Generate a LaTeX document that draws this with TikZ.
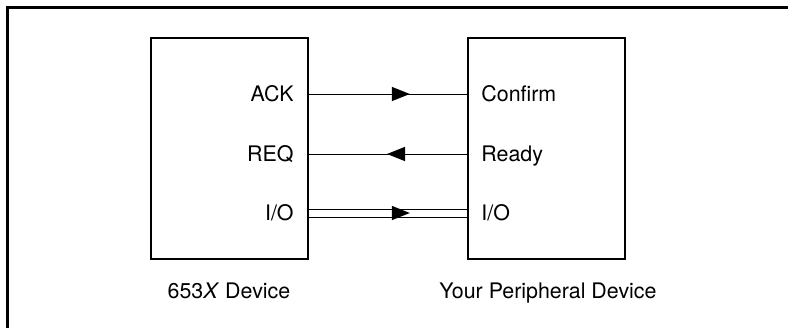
\documentclass[tikz,border=0pt]{standalone}
\usepackage{fontspec}
\setmainfont{TeX Gyre Heros}
\usetikzlibrary{decorations.markings}

\tikzset{
  device/.style={draw, line width=0.6pt, minimum width=78.5pt, minimum height=110.5pt, inner sep=0pt},
  pin/.style={inner sep=0pt, text height=7.7pt, text depth=0pt, font=\fontsize{10.7}{12}\selectfont},
  wire/.style={line width=0.5pt},
  bus/.style={double, double distance=3.5pt, line width=0.5pt},
  midtip/.style={postaction={decorate}, decoration={markings,
    mark=at position #1 with {\fill (-9pt,3.6pt) -- (0pt,0pt) -- (-9pt,-3.6pt) -- cycle;}}}
}

\begin{document}
\begin{tikzpicture}[x=0.5pt,y=-0.5pt]
\useasboundingbox (0,0) rectangle (788,328);
%----frame-------------------------------------
\draw[line width=1.5pt] (7,328) -- (7,7) -- (788,7);
%----the two devices---------------------------
\node[device] (dev) at (229.5,148.5) {};
\node[device] (per) at (546.5,148.5) {};
%----pins--------------------------------------
\node[pin, anchor=east] (ack) at (294,94) {ACK};
\node[pin, anchor=east] (req) at (294,154) {REQ};
\node[pin, anchor=east] (io) at (294,213) {I/O};
\node[pin, anchor=west] (confirm) at (481,94) {Confirm};
\node[pin, anchor=west] (ready) at (481,154) {Ready};
\node[pin, anchor=west] (pio) at (481,213) {I/O};
%----signals-----------------------------------
\draw[wire, midtip=0.6375] (dev.east |- ack) -- (per.west |- confirm);
\draw[wire, midtip=0.506] (per.west |- ready) -- (dev.east |- req);
\draw[bus] (dev.east |- io) -- (per.west |- pio);
\path[midtip=0.6375] (dev.east |- io) -- (per.west |- pio);
%----text--------------------------------------
\node[pin] (devname) at (229,291) {653\textit{X} Device};
\node[pin] (pername) at (548,291) {Your Peripheral Device};
\end{tikzpicture}
\end{document}
